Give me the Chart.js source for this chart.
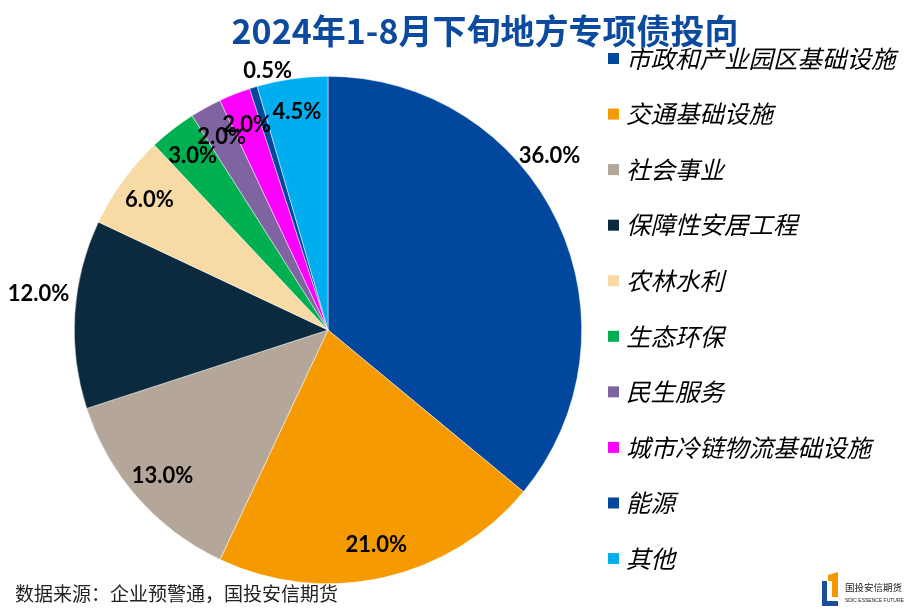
<!DOCTYPE html>
<html>
<head>
<meta charset="utf-8">
<script src="https://cdn.jsdelivr.net/npm/chart.js@4/dist/chart.umd.min.js"></script>
<style>
html,body{margin:0;padding:0;background:#fff;}
#wrap{position:relative;width:904px;height:616px;}
canvas{display:block;}
</style>
</head>
<body>
<div id="wrap"><canvas id="c" width="904" height="616"></canvas></div>
<script>
const titleText = '2024年1-8月下旬地方专项债投向';
const categories = ['市政和产业园区基础设施','交通基础设施','社会事业','保障性安居工程','农林水利','生态环保','民生服务','城市冷链物流基础设施','能源','其他'];
const shares = [36.0, 21.0, 13.0, 12.0, 6.0, 3.0, 2.0, 2.0, 0.5, 4.5];
const sliceColors = ['#00479D','#F59A00','#B4A698','#0B2A3E','#F8DAA5','#00AF50','#8064A2','#FF00FF','#00479D','#00AEEF'];
const sourceText = '数据来源：企业预警通，国投安信期货';

const labelPlugin = {
  id: 'sliceLabels',
  afterDatasetsDraw(chart) {
    const ctx = chart.ctx;
    const meta = chart.getDatasetMeta(0);
    ctx.save();
    ctx.font = 'bold 22px Lato, "Liberation Sans", sans-serif';
    ctx.fillStyle = '#000';
    ctx.textAlign = 'center';
    ctx.textBaseline = 'middle';
    meta.data.forEach((arc, i) => {
      const p = arc.getProps(['x','y','startAngle','endAngle','outerRadius'], true);
      let frac = 0.5, k = 0.87, extra = 0;
      if (i === 0) { frac = 0.40; k = 1.11; }
      if (i === 3) { frac = 0.58; k = 1.15; }
      if (i === 8) { extra = 4 * Math.PI / 180; k = 1.05; }
      const a = p.startAngle + (p.endAngle - p.startAngle) * frac + extra;
      const r = p.outerRadius * k;
      ctx.fillText(shares[i].toFixed(1) + '%', p.x + Math.cos(a) * r, p.y + Math.sin(a) * r);
    });
    ctx.restore();
  }
};

const decorPlugin = {
  id: 'decor',
  afterDraw(chart) {
    const ctx = chart.ctx;
    ctx.save();
    // title
    ctx.textAlign = 'center';
    ctx.textBaseline = 'middle';
    ctx.font = 'bold 34px "Noto Sans CJK SC", sans-serif';
    ctx.fillStyle = '#0B4A9E';
    ctx.fillText(titleText, 485, 31);
    // legend
    ctx.textAlign = 'left';
    ctx.font = 'italic 24.5px "Noto Sans CJK SC", sans-serif';
    categories.forEach((name, i) => {
      const cy = 58.5 + i * 55.56;
      ctx.fillStyle = sliceColors[i];
      ctx.fillRect(608, cy - 5.5, 11, 11);
      ctx.fillStyle = '#000';
      ctx.fillText(name, 626, cy);
    });
    // source note
    ctx.font = '19px "Noto Sans CJK SC", sans-serif';
    ctx.fillStyle = '#222';
    ctx.fillText(sourceText, 15, 594);
    // logo
    ctx.fillStyle = '#F39800';
    ctx.beginPath();
    ctx.moveTo(828, 575); ctx.lineTo(838, 572); ctx.lineTo(838, 597); ctx.lineTo(832, 597);
    ctx.lineTo(832, 581); ctx.lineTo(828, 581); ctx.closePath(); ctx.fill();
    ctx.fillStyle = '#1D4E9E';
    ctx.beginPath();
    ctx.moveTo(822, 581); ctx.lineTo(827, 581); ctx.lineTo(827, 601); ctx.lineTo(838, 601);
    ctx.lineTo(838, 606); ctx.lineTo(822, 606); ctx.closePath(); ctx.fill();
    ctx.fillStyle = '#222';
    ctx.font = '9.5px "Noto Sans CJK SC", sans-serif';
    ctx.fillText('国投安信期货', 845, 587);
    ctx.font = '5px "Liberation Sans", sans-serif';
    ctx.fillText('SDIC ESSENCE FUTURES', 845, 601);
    ctx.restore();
  }
};

new Chart(document.getElementById('c'), {
  type: 'pie',
  data: {
    labels: categories,
    datasets: [{
      data: shares,
      backgroundColor: sliceColors,
      borderColor: 'rgba(255,255,255,0.8)',
      borderWidth: 0.6
    }]
  },
  options: {
    responsive: false,
    animation: false,
    devicePixelRatio: 1,
    layout: { padding: { top: 76, left: 74, right: 322, bottom: 32 } },
    plugins: {
      legend: { display: false },
      tooltip: { enabled: false },
      title: { display: false }
    }
  },
  plugins: [labelPlugin, decorPlugin]
});
</script>
</body>
</html>
